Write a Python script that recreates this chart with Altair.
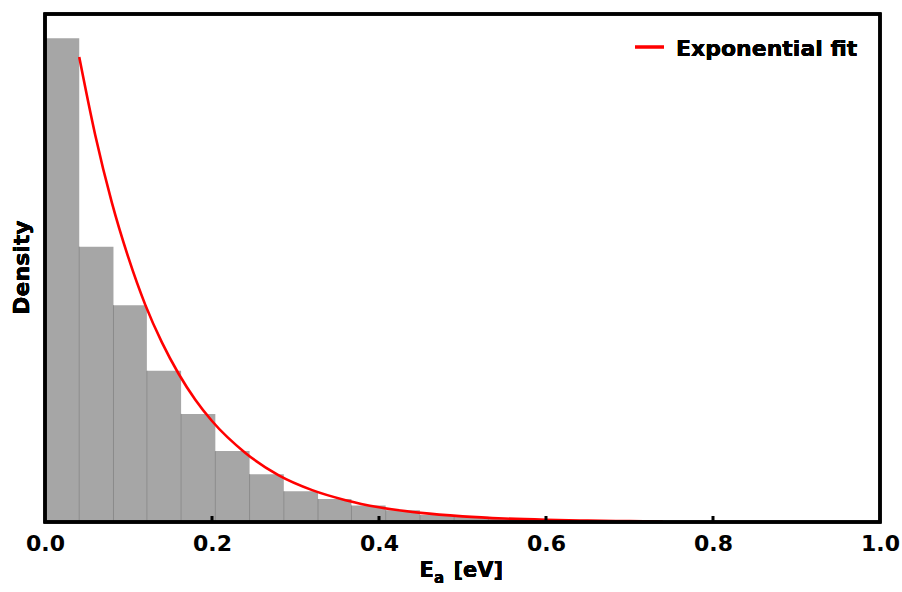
import altair as alt
import pandas as pd

# ---- data ----
bin_start = [0.000, 0.041, 0.082, 0.122, 0.163, 0.204, 0.245, 0.286, 0.327, 0.367,
             0.408, 0.449, 0.490, 0.531, 0.571, 0.612]
bin_end = [0.041, 0.082, 0.122, 0.163, 0.204, 0.245, 0.286, 0.327, 0.367, 0.408,
           0.449, 0.490, 0.531, 0.571, 0.612, 0.653]
density = [8.19, 4.66, 3.67, 2.56, 1.83, 1.20, 0.81, 0.52, 0.39, 0.28,
           0.20, 0.12, 0.09, 0.06, 0.04, 0.025]

fit_x = [0.041, 0.060, 0.080, 0.100, 0.120, 0.140, 0.160, 0.180, 0.200, 0.240,
         0.280, 0.320, 0.360, 0.400, 0.450, 0.500, 0.550, 0.600, 0.650, 0.700, 0.740]
fit_y = [7.87, 6.56, 5.41, 4.47, 3.68, 3.04, 2.51, 2.07, 1.71, 1.17,
         0.79, 0.54, 0.37, 0.25, 0.155, 0.096, 0.059, 0.037, 0.023, 0.014, 0.009]

tick_vals = [0.0, 0.2, 0.4, 0.6, 0.8, 1.0]
inner_ticks = [0.2, 0.4, 0.6, 0.8]
legend_label = "Exponential fit"

W, H = 835, 508
Y_MAX = 8.6
FONT = "DejaVu Sans"

bars = pd.DataFrame({"x0": bin_start, "x1": bin_end, "d": density})
seps = pd.DataFrame({
    "x": bin_start[1:],
    "h": [min(a, b) for a, b in zip(density[:-1], density[1:])],
    "z": [0.0] * (len(density) - 1),
})
fit = pd.DataFrame({"x": fit_x, "y": fit_y})
ticks = pd.DataFrame({"x": inner_ticks})

xscale = alt.Scale(domain=[0, 1], nice=False, zero=False)
yscale = alt.Scale(domain=[0, Y_MAX], nice=False)

xaxis = alt.Axis(values=tick_vals, format=".1f", labelFont=FONT, labelFontSize=22,
                 labelFontWeight="bold", labelColor="black", labelFlush=False,
                 labelPadding=11, ticks=False, domain=False, grid=False,
                 labelOverlap=False, title="")

bar_layer = alt.Chart(bars).mark_rect(color="#a6a6a6").encode(
    x=alt.X("x0:Q", scale=xscale, axis=xaxis),
    x2="x1:Q",
    y=alt.Y("d:Q", scale=yscale, axis=None),
    y2=alt.datum(0),
)

sep_layer = alt.Chart(seps).mark_rule(color="#8a8a8a", strokeWidth=1).encode(
    x=alt.X("x:Q", scale=xscale),
    y=alt.Y("h:Q", scale=yscale),
    y2="z:Q",
)

fit_layer = alt.Chart(fit).mark_line(color="#ff0000", strokeWidth=2.6,
                                     interpolate="monotone").encode(
    x=alt.X("x:Q", scale=xscale),
    y=alt.Y("y:Q", scale=yscale),
)

tick_layer = alt.Chart(ticks).mark_rule(color="black", strokeWidth=3).encode(
    x=alt.X("x:Q", scale=xscale),
    y=alt.value(H - 6),
    y2=alt.value(H),
)

frame = alt.Chart(ticks).mark_rect(filled=False, stroke="black", strokeWidth=3).encode(
    x=alt.value(0), x2=alt.value(W), y=alt.value(0), y2=alt.value(H)
)

leg_line = alt.Chart(ticks).mark_rule(color="#ff0000", strokeWidth=2.6).encode(
    x=alt.value(590), x2=alt.value(619), y=alt.value(33)
)
leg_text = alt.Chart(ticks).mark_text(
    text=legend_label, font=FONT, fontSize=22, fontWeight="bold", color="black",
    align="left", baseline="alphabetic"
).encode(x=alt.value(631), y=alt.value(41.5))

xt_E = alt.Chart(ticks).mark_text(
    text="E", font=FONT, fontSize=21, fontWeight="bold", color="black",
    align="left", baseline="alphabetic"
).encode(x=alt.value(374.5), y=alt.value(562.5))
xt_a = alt.Chart(ticks).mark_text(
    text="a", font=FONT, fontSize=15, fontWeight="bold", color="black",
    align="left", baseline="alphabetic"
).encode(x=alt.value(389), y=alt.value(569))
xt_rest = alt.Chart(ticks).mark_text(
    text="[eV]", font=FONT, fontSize=21, fontWeight="bold", color="black",
    align="left", baseline="alphabetic"
).encode(x=alt.value(408.5), y=alt.value(562.5))

yt = alt.Chart(ticks).mark_text(
    text="Density", font=FONT, fontSize=22, fontWeight="bold", color="black",
    align="center", baseline="alphabetic", angle=270
).encode(x=alt.value(-16.5), y=alt.value(253.5))

chart = alt.layer(
    bar_layer, sep_layer, fit_layer, tick_layer, frame,
    leg_line, leg_text, xt_E, xt_a, xt_rest, yt
).properties(
    width=W, height=H,
    autosize=alt.AutoSizeParams(type="none"),
    padding={"left": 45, "top": 14, "right": 22, "bottom": 70},
).configure_view(strokeWidth=0).configure(background="white")

chart.save("out.html", embed_options={"renderer": "svg", "actions": False})
